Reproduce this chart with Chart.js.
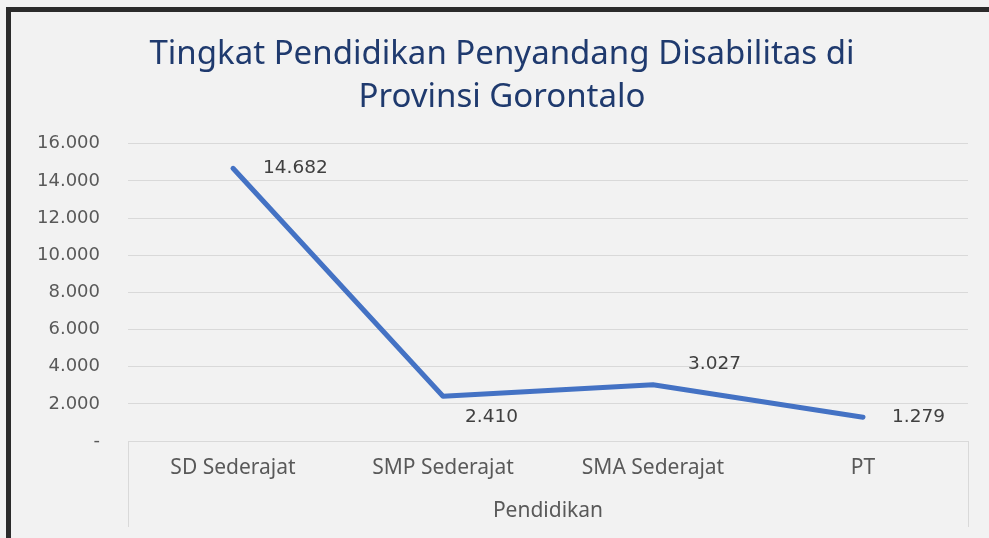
<!DOCTYPE html>
<html lang="id">
<head>
  <meta charset="UTF-8">
  <title>Tingkat Pendidikan Penyandang Disabilitas di Provinsi Gorontalo</title>
  <script src="https://cdn.jsdelivr.net/npm/chart.js"></script>
  <style>
    html, body {
      margin: 0;
      padding: 0;
      background: #f2f2f2;
      overflow: hidden;
    }
    .frame {
      position: absolute;
      left: 6px;
      top: 7px;
      width: 1000px;
      height: 540px;
      border-top: 5px solid #2b2b2b;
      border-left: 5px solid #2b2b2b;
      background: #f2f2f2;
    }
    .chart-box {
      position: absolute;
      left: 0;
      top: 0;
      width: 982px;
      height: 526px;
    }
  </style>
</head>
<body>
  <div class="frame">
    <div class="chart-box"><canvas id="eduChart"></canvas></div>
  </div>

  <script>
    const categories = ['SD Sederajat', 'SMP Sederajat', 'SMA Sederajat', 'PT'];
    const jumlah = [14682, 2410, 3027, 1279];
    const yTicks = [0, 2000, 4000, 6000, 8000, 10000, 12000, 14000, 16000];

    // angka format Indonesia: titik sebagai pemisah ribuan, nol jadi "-"
    function fmt(v) {
      if (v === 0) return '-';
      return String(v).replace(/\B(?=(\d{3})+(?!\d))/g, '.');
    }

    const labelFont = "'DejaVu Sans', sans-serif";
    const textFont = "'Noto Sans', sans-serif";

    // offset label data relatif ke titik, meniru posisi di Excel
    const labelOffsets = [[30, 0], [22, 21], [35, -21], [29, 0]];

    const dataLabels = {
      id: 'dataLabels',
      afterDatasetsDraw(chart) {
        const ctx = chart.ctx;
        const meta = chart.getDatasetMeta(0);
        ctx.save();
        ctx.font = '18.5px ' + labelFont;
        ctx.fillStyle = '#404040';
        ctx.textAlign = 'left';
        ctx.textBaseline = 'middle';
        meta.data.forEach((pt, i) => {
          const off = labelOffsets[i];
          ctx.fillText(fmt(jumlah[i]), pt.x + off[0], pt.y + off[1]);
        });
        ctx.restore();
      }
    };

    const ctx = document.getElementById('eduChart').getContext('2d');
    new Chart(ctx, {
      type: 'line',
      data: {
        labels: categories,
        datasets: [{
          label: 'Jumlah',
          data: jumlah,
          borderColor: '#4472C4',
          borderWidth: 5,
          borderCapStyle: 'round',
          borderJoinStyle: 'round',
          pointRadius: 0,
          pointHoverRadius: 0,
          tension: 0,
          fill: false
        }]
      },
      options: {
        responsive: true,
        maintainAspectRatio: false,
        animation: false,
        layout: { padding: 0 },
        scales: {
          x: {
            offset: true,
            border: { display: true, color: '#d9d9d9', width: 1 },
            grid: {
              offset: true,
              drawOnChartArea: false,
              drawTicks: true,
              tickLength: 86,
              tickColor: (c) => (c.type === 'tick' && c.index > 0) ? 'rgba(0,0,0,0)' : '#d9d9d9'
            },
            ticks: {
              color: '#595959',
              padding: -72,
              font: { family: textFont, size: 21 }
            },
            title: {
              display: true,
              text: 'Pendidikan',
              color: '#595959',
              font: { family: textFont, size: 21 },
              padding: { top: 0, bottom: 14 }
            },
            afterFit(scale) { scale.height = 97; }
          },
          y: {
            min: 0,
            max: 16000,
            border: { display: false },
            grid: { color: '#d9d9d9', drawTicks: false },
            afterBuildTicks(scale) { scale.ticks = yTicks.map(v => ({ value: v })); },
            ticks: {
              color: '#595959',
              padding: 28,
              font: { family: labelFont, size: 18 },
              callback: (v) => fmt(v)
            },
            afterFit(scale) { scale.width = 117; }
          },
          // sumbu kosong di kanan, cuma buat ruang supaya judul tetap di tengah kanvas
          spacer: {
            type: 'linear',
            position: 'right',
            display: true,
            border: { display: false },
            grid: { display: false, drawOnChartArea: false },
            ticks: { display: false },
            afterFit(scale) { scale.width = 25; }
          }
        },
        plugins: {
          legend: { display: false },
          tooltip: { enabled: false },
          title: {
            display: true,
            text: ['Tingkat Pendidikan Penyandang Disabilitas di', 'Provinsi Gorontalo'],
            color: '#1F3A6E',
            font: { family: textFont, size: 33, weight: 'normal', lineHeight: 1.3 },
            padding: { top: 21, bottom: 25 }
          }
        }
      },
      plugins: [dataLabels]
    });
  </script>
</body>
</html>
